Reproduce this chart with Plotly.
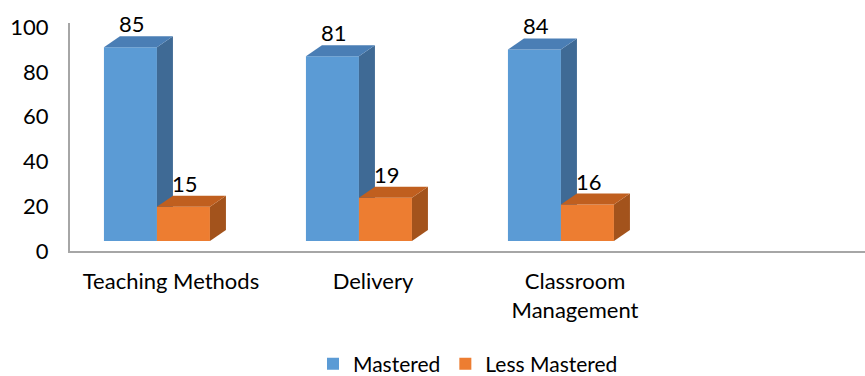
import plotly.graph_objects as go

categories = ["Teaching Methods", "Delivery", "Classroom<br>Management"]
mastered = [85, 81, 84]
less_mastered = [15, 19, 16]
series_names = ["Mastered", "Less Mastered"]
y_ticks = [0, 20, 40, 60, 80, 100]

# styling / geometry (not data)
W, H = 865, 376
L, R, T, B = 70, 0, 23, 125
plot_w = W - L - R
plot_h = H - T - B
cat_px = 202.0                      # pixels per category
x_range = [-0.5, -0.5 + plot_w / cat_px]
vis_px_per_unit = 2.24
y_range = [0, plot_h / vis_px_per_unit]
bar_px_per_unit = 2.28
floor_lift_px = 10
y2_range = [-floor_lift_px / bar_px_per_unit, (plot_h - floor_lift_px) / bar_px_per_unit]
bar_w = 53 / cat_px
offsets = [-0.332, -0.332 + bar_w]
dx = 16 / cat_px
dy = 11 / bar_px_per_unit

front_cols = ["#5B9BD5", "#ED7D31"]
top_cols = ["#4A7EB5", "#C05F1F"]
side_cols = ["#3F6A95", "#A3531C"]
FONT = "Lato"
FS = 22

fig = go.Figure()
# invisible anchor trace for main visible axes
fig.add_trace(go.Scatter(x=[0], y=[0], mode="markers", marker=dict(opacity=0),
                         showlegend=False, hoverinfo="skip", xaxis="x", yaxis="y"))

xs = list(range(len(categories)))
for s, (vals, name) in enumerate(zip([mastered, less_mastered], series_names)):
    ya = "y2" if s == 0 else "y3"
    fig.add_trace(go.Bar(x=xs, y=vals, base=0, width=bar_w, offset=offsets[s],
                         marker=dict(color=front_cols[s], line=dict(width=0)),
                         name=name, xaxis="x", yaxis=ya, hoverinfo="skip"))
    for i, v in enumerate(vals):
        x0 = xs[i] + offsets[s]
        x1 = x0 + bar_w
        # side face
        fig.add_trace(go.Scatter(x=[x1, x1, x1 + dx, x1 + dx, x1], y=[0, v, v + dy, dy, 0],
                                 fill="toself", mode="lines", line=dict(width=0),
                                 fillcolor=side_cols[s], showlegend=False, hoverinfo="skip",
                                 xaxis="x", yaxis=ya))
        # top face
        fig.add_trace(go.Scatter(x=[x0, x1, x1 + dx, x0 + dx, x0], y=[v, v, v + dy, v + dy, v],
                                 fill="toself", mode="lines", line=dict(width=0),
                                 fillcolor=top_cols[s], showlegend=False, hoverinfo="skip",
                                 xaxis="x", yaxis=ya))
        fig.add_annotation(x=x0 + bar_w / 2 + 0.01, y=v + dy, xref="x", yref=ya,
                           text=str(v), showarrow=False, yanchor="bottom", yshift=-3,
                           font=dict(family=FONT, size=FS, color="#000000"))

axis_line = dict(showline=True, linecolor="#A6A6A6", linewidth=2)
fig.update_layout(
    width=W, height=H,
    margin=dict(l=L, r=R, t=T, b=B, autoexpand=False),
    paper_bgcolor="white", plot_bgcolor="white",
    font=dict(family=FONT, size=FS, color="#000000"),
    barmode="overlay",
    showlegend=True,
    legend=dict(orientation="h", x=(468 - L) / plot_w, xanchor="center",
                y=-(364 - (T + plot_h)) / plot_h, yanchor="middle",
                font=dict(family=FONT, size=21), itemwidth=30, traceorder="normal",
                bgcolor="rgba(0,0,0,0)"),
    xaxis=dict(range=x_range, tickvals=xs, ticktext=categories, showgrid=False,
               zeroline=False, ticks="", ticklabelstandoff=10, fixedrange=True, **axis_line),
    yaxis=dict(range=y_range, tickvals=y_ticks, showgrid=False, zeroline=False,
               ticks="", ticklabelstandoff=15, fixedrange=True, **axis_line),
    yaxis2=dict(range=y2_range, overlaying="y", visible=False, fixedrange=True),
    yaxis3=dict(range=y2_range, overlaying="y", visible=False, fixedrange=True),
)

fig.write_html("out.html")
